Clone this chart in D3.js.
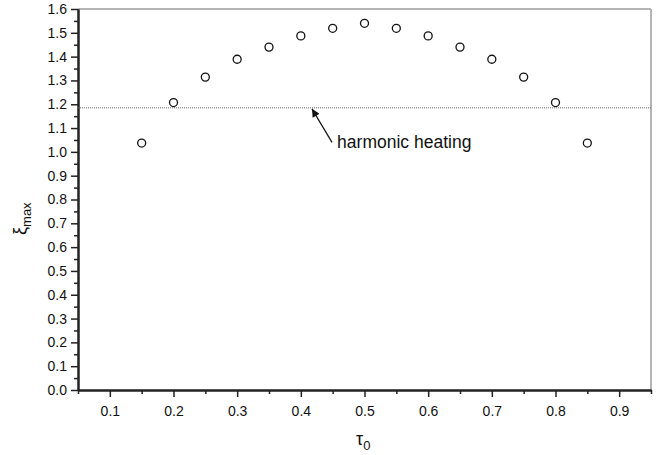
<!DOCTYPE html>
<head>
  <meta charset="utf-8">
  <script src="https://d3js.org/d3.v7.min.js"></script>
  <style>
    body { margin:0; background:#fff; }
    svg { display:block; }
    text { font-family: Arial, "Liberation Sans", sans-serif; fill:#111; }
  </style>
</head>

<body>
  <svg width="658" height="455"></svg>
  <script>
    // peak value of xi against the switching time tau0
    var tau = [0.15, 0.20, 0.25, 0.30, 0.35, 0.40, 0.45, 0.50, 0.55, 0.60, 0.65, 0.70, 0.75, 0.80, 0.85];
    var xiMax = [1.037, 1.207, 1.314, 1.389, 1.440, 1.487, 1.519, 1.540, 1.519, 1.487, 1.440, 1.389, 1.314, 1.207, 1.037];
    var harmonicLevel = 1.185;
    var xTicks = [0.1, 0.2, 0.3, 0.4, 0.5, 0.6, 0.7, 0.8, 0.9];
    var yTicks = [0.0, 0.1, 0.2, 0.3, 0.4, 0.5, 0.6, 0.7, 0.8, 0.9, 1.0, 1.1, 1.2, 1.3, 1.4, 1.5, 1.6];

    var margin = {top: 9, right: 7, bottom: 65, left: 78};
    var width = 658, height = 455;

    var svg = d3.select('svg');

    var xScale = d3.scaleLinear()
      .domain([0.05, 0.95])
      .range([margin.left, width - margin.right]);

    var yScale = d3.scaleLinear()
      .domain([0, 1.6])
      .range([height - margin.bottom, margin.top]);

    // top and right frame lines
    svg.append('line')
      .attr('x1', xScale(0.05)).attr('x2', xScale(0.95))
      .attr('y1', yScale(1.6)).attr('y2', yScale(1.6))
      .attr('stroke', '#b4b4b4').attr('stroke-width', 2);
    svg.append('line')
      .attr('x1', xScale(0.95)).attr('x2', xScale(0.95))
      .attr('y1', yScale(1.6)).attr('y2', yScale(0))
      .attr('stroke', '#b4b4b4').attr('stroke-width', 2);

    // minor ticks every 0.05
    var xMinor = d3.range(0.05, 0.951, 0.1).map(d => +d.toFixed(2));
    var yMinor = d3.range(0.05, 1.6, 0.1).map(d => +d.toFixed(2));

    var xAxis = d3.axisBottom(xScale)
      .tickValues(xTicks)
      .tickFormat(d3.format('.1f'))
      .tickSizeInner(7).tickSizeOuter(0).tickPadding(9);
    var xMinorAxis = d3.axisBottom(xScale)
      .tickValues(xMinor).tickFormat('')
      .tickSizeInner(4).tickSizeOuter(0);

    var yAxis = d3.axisLeft(yScale)
      .tickValues(yTicks)
      .tickFormat(d3.format('.1f'))
      .tickSizeInner(7).tickSizeOuter(0).tickPadding(4);
    var yMinorAxis = d3.axisLeft(yScale)
      .tickValues(yMinor).tickFormat('')
      .tickSizeInner(4).tickSizeOuter(0);

    function styleAxis(g) {
      g.attr('font-size', 14);
      g.selectAll('path.domain').attr('stroke', '#222').attr('stroke-width', 2);
      g.selectAll('.tick line').attr('stroke', '#222').attr('stroke-width', 1.5);
      g.selectAll('text').attr('font-size', 14).attr('fill', '#111');
    }

    svg.append('g')
      .attr('transform', 'translate(0,' + yScale(0) + ')')
      .call(xMinorAxis).call(styleAxis);
    svg.append('g')
      .attr('transform', 'translate(0,' + yScale(0) + ')')
      .call(xAxis).call(styleAxis);
    svg.append('g')
      .attr('transform', 'translate(' + xScale(0.05) + ',0)')
      .call(yMinorAxis).call(styleAxis);
    svg.append('g')
      .attr('transform', 'translate(' + xScale(0.05) + ',0)')
      .call(yAxis).call(styleAxis);

    // harmonic heating reference level
    svg.append('line')
      .attr('x1', xScale(0.05)).attr('x2', xScale(0.95))
      .attr('y1', yScale(harmonicLevel)).attr('y2', yScale(harmonicLevel))
      .attr('stroke', '#666').attr('stroke-width', 1)
      .attr('stroke-dasharray', '1,1');

    // data points
    svg.append('g').selectAll('circle')
      .data(tau)
      .enter().append('circle')
      .attr('cx', d => xScale(d))
      .attr('cy', (d, i) => yScale(xiMax[i]))
      .attr('r', 4)
      .attr('fill', 'none')
      .attr('stroke', '#111')
      .attr('stroke-width', 1.3);

    // annotation arrow
    svg.append('defs').append('marker')
      .attr('id', 'head')
      .attr('viewBox', '0 0 10 10')
      .attr('refX', 10).attr('refY', 5)
      .attr('markerWidth', 10).attr('markerHeight', 8)
      .attr('markerUnits', 'userSpaceOnUse')
      .attr('orient', 'auto')
      .append('path')
      .attr('d', 'M0,0 L10,5 L0,10 Z')
      .attr('fill', '#111');

    svg.append('line')
      .attr('x1', xScale(0.449)).attr('y1', yScale(1.04))
      .attr('x2', xScale(0.4175)).attr('y2', yScale(harmonicLevel) + 1)
      .attr('stroke', '#111').attr('stroke-width', 1.2)
      .attr('marker-end', 'url(#head)');

    svg.append('text')
      .attr('x', xScale(0.457)).attr('y', 148)
      .attr('font-size', 17.5)
      .text('harmonic heating');

    // axis titles
    var xTitle = svg.append('text')
      .attr('x', 356).attr('y', 445)
      .attr('font-size', 18);
    xTitle.append('tspan').text('τ');
    xTitle.append('tspan').attr('dy', 5).attr('font-size', 13).text('0');

    var yTitle = svg.append('text')
      .attr('transform', 'translate(26,235) rotate(-90)')
      .attr('font-size', 18);
    yTitle.append('tspan').text('ξ');
    yTitle.append('tspan').attr('dy', 5).attr('font-size', 13).text('max');
  </script>
</body>
